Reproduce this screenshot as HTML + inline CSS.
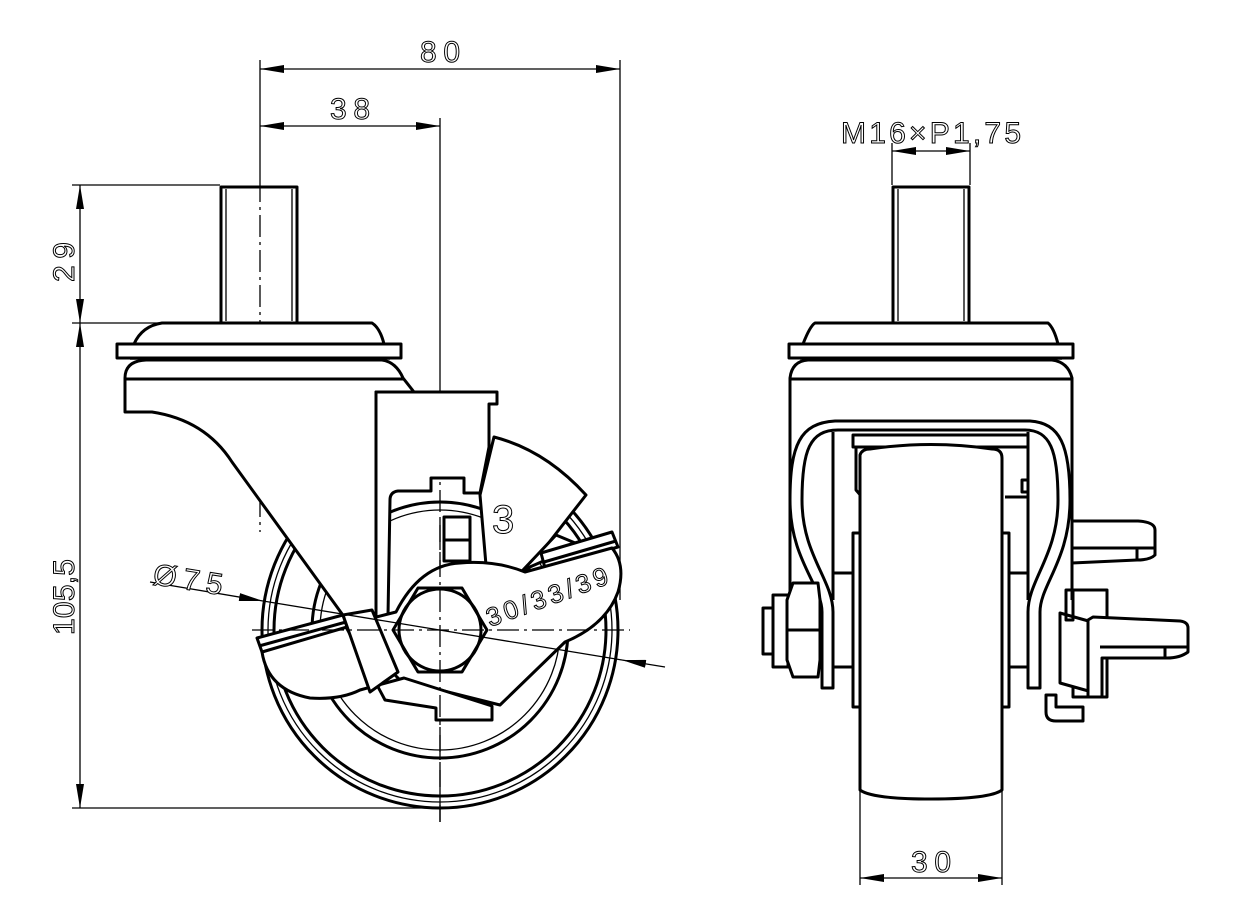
<!DOCTYPE html>
<html><head><meta charset="utf-8"><style>
html,body{margin:0;padding:0;background:#fff;width:1242px;height:923px;overflow:hidden}
svg{display:block}
text{font-family:"Liberation Sans",sans-serif;font-weight:normal;fill:#fff;stroke:#000;stroke-width:1}
.t{fill:none;stroke:#000;stroke-width:3;stroke-linejoin:round}
.w{fill:#fff;stroke:#000;stroke-width:3;stroke-linejoin:round}
.n{fill:none;stroke:#000;stroke-width:1.3}
.c{fill:none;stroke:#000;stroke-width:1.3;stroke-dasharray:22 5 3 5}
</style></head><body>
<svg width="1242" height="923" viewBox="0 0 1242 923" xmlns="http://www.w3.org/2000/svg">
<defs>
<marker id="a" viewBox="0 0 24 8" refX="24" refY="4" markerWidth="24" markerHeight="8" markerUnits="userSpaceOnUse" orient="auto-start-reverse"><path d="M0,0 L24,4 L0,8 Z" fill="#000"/></marker>
</defs>

<!-- ============ LEFT VIEW ============ -->
<line class="n" x1="260" y1="60" x2="260" y2="180"/>
<line class="c" x1="260" y1="180" x2="260" y2="532"/>
<line class="n" x1="620" y1="60" x2="620" y2="600"/>
<line class="n" x1="260" y1="69" x2="620" y2="69" marker-start="url(#a)" marker-end="url(#a)"/>
<text x="440" y="62" font-size="30" text-anchor="middle" textLength="40">80</text>
<line class="n" x1="440" y1="118" x2="440" y2="420"/>
<line class="c" x1="440" y1="420" x2="440" y2="822"/>
<line class="n" x1="260" y1="126" x2="440" y2="126" marker-start="url(#a)" marker-end="url(#a)"/>
<text x="350" y="119" font-size="30" text-anchor="middle" textLength="40">38</text>
<line class="n" x1="72" y1="185" x2="220" y2="185"/>
<line class="n" x1="72" y1="323" x2="218" y2="323"/>
<line class="n" x1="72" y1="808" x2="440" y2="808"/>
<line class="n" x1="80" y1="185" x2="80" y2="323" marker-start="url(#a)" marker-end="url(#a)"/>
<line class="n" x1="80" y1="323" x2="80" y2="808" marker-start="url(#a)" marker-end="url(#a)"/>
<text transform="translate(74,262) rotate(-90)" font-size="30" text-anchor="middle" textLength="40">29</text>
<text transform="translate(74,597) rotate(-90)" font-size="30" text-anchor="middle" textLength="76">105,5</text>

<rect class="t" x="221" y="187" width="76" height="136"/>
<line class="n" x1="226" y1="189" x2="226" y2="321"/>
<line class="n" x1="292" y1="189" x2="292" y2="321"/>
<path class="w" d="M134,344 Q142,326 162,323 L372,323 Q380,328 384,344 Z"/>
<rect class="w" x="117" y="344" width="284" height="14"/>
<line x1="130" y1="359" x2="390" y2="359" stroke="#000" stroke-width="1.5" stroke-dasharray="20 4 3 4"/>

<circle class="t" cx="440" cy="630" r="178"/>
<circle class="n" cx="440" cy="630" r="172" stroke-width="2"/>
<circle class="t" cx="440" cy="630" r="166"/>
<circle class="t" cx="440" cy="630" r="128"/>
<circle class="n" cx="440" cy="630" r="120" stroke-width="2"/>

<path class="w" d="M125,412 L125,378 Q125,361 146,360 L382,360 Q396,362 403,378 L414,392 L376,392 L376,620 L345,618 L232,462 Q205,420 152,412 Z"/>
<line class="t" x1="125" y1="379" x2="404" y2="379"/>
<path class="w" d="M376,392 L497,392 L497,404 L489,404 L489,447 L480,493 L464,493 L464,478 L431,478 L431,491 L398,491 Q390,492 390,500 L388,616 L376,620 Z"/>
<rect class="t" x="444" y="517" width="26" height="44"/>
<line class="t" x1="444" y1="540" x2="470" y2="540"/>
<path class="w" d="M494,437 Q545,450 586,495 L526,572 L486,565 L480,495 Z"/>
<text x="492" y="533" font-size="40" textLength="24">3</text>
<path class="w" d="M523,570 L556,535 L580,545 Z"/>
<path class="w" d="M541,553 L612,532 L618,547 L545,568 Z"/>
<line class="t" x1="544" y1="562" x2="616" y2="541"/>
<path class="w" d="M396,612 Q420,565 460,563 Q495,560 525,572 L612,548 Q626,565 618,592 Q606,625 565,642 L500,705 L440,690 L400,680 L345,625 Z"/>
<path class="w" d="M262,652 Q268,690 310,698 Q340,700 360,690 L404,678 L492,706 L492,720 L436,720 L436,708 L385,700 L345,625 Z"/>
<path class="w" d="M257,638 L343,615 L347,627 L262,652 Z"/>
<line class="t" x1="259" y1="646" x2="346" y2="622"/>
<path class="w" d="M343,615 L372,610 L398,672 L370,692 Z"/>
<path class="w" d="M418,588 L462,588 L487,630 L462,672 L418,672 L393,630 Z"/>
<circle class="t" cx="440" cy="630" r="41"/>
<line class="c" x1="252" y1="630" x2="630" y2="630"/>
<line class="n" x1="440" y1="520" x2="440" y2="822" stroke-dasharray="22 5 3 5"/>
<line class="n" x1="150" y1="582" x2="263" y2="601" marker-end="url(#a)"/>
<line class="n" x1="263" y1="601" x2="622" y2="660"/>
<line class="n" x1="665" y1="667" x2="622" y2="660" marker-end="url(#a)"/>
<text transform="translate(152,584) rotate(9)" font-size="30" textLength="70">Ø75</text>
<text transform="translate(490,627) rotate(-20)" font-size="26" textLength="128">30/33/39</text>

<!-- ============ RIGHT VIEW ============ -->
<text x="931" y="143" font-size="30" text-anchor="middle" textLength="180">M16×P1,75</text>
<line class="n" x1="892" y1="143" x2="892" y2="185"/>
<line class="n" x1="970" y1="143" x2="970" y2="185"/>
<line class="n" x1="892" y1="151" x2="970" y2="151" marker-start="url(#a)" marker-end="url(#a)"/>
<rect class="t" x="893" y="187" width="76" height="136"/>
<line class="n" x1="898" y1="189" x2="898" y2="321"/>
<line class="n" x1="964" y1="189" x2="964" y2="321"/>
<path class="w" d="M803,344 Q810,326 815,323 L1048,323 Q1054,328 1058,344 Z"/>
<rect class="w" x="789" y="344" width="284" height="14"/>
<line x1="800" y1="359" x2="1062" y2="359" stroke="#000" stroke-width="1.5" stroke-dasharray="20 4 3 4"/>
<path class="w" d="M790,600 L790,378 Q792,361 808,360 L1052,360 Q1068,362 1072,378 L1072,600"/>
<line class="t" x1="790" y1="379" x2="1072" y2="379"/>
<path class="w" d="M822,688 L822,612 C822,585 790,560 790,500 C790,445 800,423 835,421 L1030,421 C1060,423 1070,445 1070,500 C1070,560 1040,585 1040,612 L1040,688 L1028,688 L1028,612 C1028,580 1058,555 1058,500 C1058,450 1050,430 1025,430 L838,430 C810,430 802,450 802,500 C802,555 833,580 833,612 L833,688 Z"/>
<line class="t" x1="833" y1="432" x2="833" y2="600"/>
<line class="t" x1="1028" y1="432" x2="1028" y2="600"/>
<line class="t" x1="833" y1="573" x2="855" y2="573"/>
<line class="t" x1="833" y1="667" x2="855" y2="667"/>
<line class="t" x1="1008" y1="573" x2="1028" y2="573"/>
<line class="t" x1="1008" y1="667" x2="1028" y2="667"/>
<rect class="w" x="853" y="435" width="175" height="12"/>
<path class="t" d="M856,447 L856,490 L862,497"/>
<rect class="t" x="1022" y="480" width="6" height="12"/>
<line class="t" x1="1005" y1="497" x2="1028" y2="497"/>
<rect class="w" x="853" y="533" width="8" height="174"/>
<rect class="w" x="1001" y="533" width="8" height="174"/>
<line class="n" x1="860" y1="790" x2="860" y2="885"/>
<line class="n" x1="1002" y1="790" x2="1002" y2="885"/>
<path class="w" d="M860,455 Q862,449 870,449 Q931,440 992,449 Q1002,449 1002,458 L1002,790 Q990,799 931,799 Q872,799 860,790 Z"/>
<rect class="w" x="773" y="595" width="15" height="72"/>
<rect class="w" x="763" y="608" width="10" height="46"/>
<path class="w" d="M793,583 L818,583 L820,600 L820,660 L818,677 L793,677 L787,660 L787,600 Z"/>
<line class="t" x1="787" y1="630" x2="820" y2="630"/>
<path class="w" d="M1072,521 L1138,521 Q1155,522 1155,530 L1155,555 Q1150,560 1137,560 L1072,563 Z"/>
<line class="t" x1="1137" y1="548" x2="1137" y2="560"/>
<line class="t" x1="1072" y1="548" x2="1155" y2="548"/>
<rect class="w" x="1073" y="590" width="34" height="107"/>
<path class="w" d="M1060,613 L1092,622 L1092,692 L1060,683 Z"/>
<path class="w" d="M1093,617 L1180,621 Q1188,622 1188,628 L1188,652 Q1180,658 1167,658 L1102,658 L1102,697 L1088,697 L1088,620 Z"/>
<line class="t" x1="1100" y1="647" x2="1188" y2="647"/>
<line class="t" x1="1165" y1="647" x2="1165" y2="658"/>
<path class="w" d="M1046,695 L1056,695 L1056,707 L1083,707 L1083,721 L1056,721 Q1046,721 1046,712 Z"/>
<rect class="t" x="1066" y="590" width="7" height="30"/>
<line class="n" x1="860" y1="878" x2="1002" y2="878" marker-start="url(#a)" marker-end="url(#a)"/>
<text x="931" y="872" font-size="30" text-anchor="middle" textLength="40">30</text>
</svg>
</body></html>
